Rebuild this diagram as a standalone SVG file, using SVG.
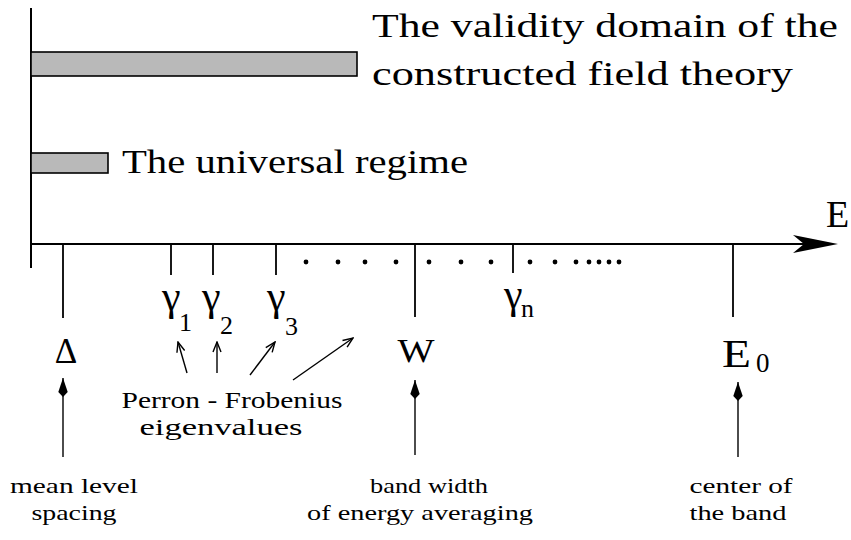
<svg xmlns="http://www.w3.org/2000/svg" width="851" height="540" viewBox="0 0 851 540">
<style>
.ax{stroke:#000;stroke-width:2;fill:none}
.tk{stroke:#000;stroke-width:1.8;fill:none}
.ln{stroke:#000;stroke-width:1.4;fill:none}
.bar{fill:#b9b9b9;stroke:#000;stroke-width:1.6}
.big{font-size:34px}
.mid{font-size:24px}
.sm{font-size:22px}
.g{font-size:42px}
.sub{font-size:26px}
</style>
<defs>
<marker id="fh" viewBox="0 0 20 10" refX="20" refY="5" markerWidth="20" markerHeight="10" markerUnits="userSpaceOnUse" orient="auto">
<path d="M20,5 L6,0.3 L1,5 L6,9.7 Z" fill="#000"/>
</marker>
<marker id="oh" viewBox="0 0 12 10" refX="11" refY="5" markerWidth="12" markerHeight="10" markerUnits="userSpaceOnUse" orient="auto">
<path d="M1,1 L11,5 L1,9" fill="none" stroke="#000" stroke-width="1.4"/>
</marker>
</defs>
<rect width="851" height="540" fill="#fff"/>

<g font-family="'Liberation Serif', 'Times New Roman', Times, serif" fill="#000">
<g id="axes">
<line class="ax" x1="31" y1="8" x2="31" y2="268"/>
<line class="ax" x1="31" y1="244" x2="815" y2="244"/>
<polygon points="838,244 793,235 804,244 793,253" fill="#000"/>
<text x="826" y="227" font-size="38">E</text>
</g>

<g id="validity">
<rect class="bar" x="31" y="52" width="326" height="24"/>
<text class="big" x="372" y="37" textLength="466" lengthAdjust="spacingAndGlyphs">The validity domain of the</text>
<text class="big" x="372" y="85" textLength="421" lengthAdjust="spacingAndGlyphs">constructed field theory</text>
</g>

<g id="universal">
<rect class="bar" x="31" y="153" width="77" height="20"/>
<text class="big" x="122" y="173" textLength="346" lengthAdjust="spacingAndGlyphs">The universal regime</text>
</g>

<g id="ticks">
<line class="tk" x1="63" y1="244" x2="63" y2="318"/>
<line class="tk" x1="171" y1="244" x2="171" y2="275"/>
<line class="tk" x1="213" y1="244" x2="213" y2="275"/>
<line class="tk" x1="276" y1="244" x2="276" y2="275"/>
<line class="tk" x1="415" y1="244" x2="415" y2="317"/>
<line class="tk" x1="513" y1="244" x2="513" y2="273"/>
<line class="tk" x1="733" y1="244" x2="733" y2="317"/>
</g>

<g id="dots">
<circle cx="306" cy="262" r="2.4"/><circle cx="338" cy="262" r="2.4"/>
<circle cx="365" cy="262" r="2.4"/><circle cx="396" cy="262" r="2.4"/>
<circle cx="429" cy="262" r="2.4"/><circle cx="461" cy="262" r="2.4"/>
<circle cx="491" cy="262" r="2.4"/><circle cx="530" cy="262" r="2.4"/>
<circle cx="555" cy="262" r="2.4"/><circle cx="576" cy="262" r="2.4"/>
<circle cx="589" cy="262" r="2.4"/><circle cx="599" cy="262" r="2.4"/>
<circle cx="609" cy="262" r="2.4"/><circle cx="619" cy="262" r="2.4"/>
</g>

<g id="gamma1"><text class="g" x="162" y="310">γ</text><text class="sub" x="179" y="331">1</text></g>
<g id="gamma2"><text class="g" x="202" y="310">γ</text><text class="sub" x="220" y="334">2</text></g>
<g id="gamma3"><text class="g" x="267" y="310">γ</text><text class="sub" x="285" y="335">3</text></g>
<g id="gamman"><text class="g" x="504" y="308">γ</text><text class="sub" x="521" y="317">n</text></g>

<g id="delta"><text x="66" y="363" text-anchor="middle" font-size="35">Δ</text></g>
<g id="W"><text x="416" y="362" text-anchor="middle" font-size="33" textLength="37" lengthAdjust="spacingAndGlyphs">W</text></g>
<g id="E0"><text x="722" y="367" font-size="39" textLength="29" lengthAdjust="spacingAndGlyphs">E</text><text x="756" y="372" font-size="27">0</text></g>

<g id="perron">
<text class="mid" x="232" y="408" text-anchor="middle" textLength="221" lengthAdjust="spacingAndGlyphs">Perron - Frobenius</text>
<text class="mid" x="221" y="435" text-anchor="middle" textLength="163" lengthAdjust="spacingAndGlyphs">eigenvalues</text>
</g>

<g id="mean">
<text class="sm" x="74" y="493" text-anchor="middle" textLength="128" lengthAdjust="spacingAndGlyphs">mean level</text>
<text class="sm" x="74" y="520" text-anchor="middle" textLength="85" lengthAdjust="spacingAndGlyphs">spacing</text>
</g>

<g id="bandwidth">
<text class="sm" x="429" y="493" text-anchor="middle" textLength="118" lengthAdjust="spacingAndGlyphs">band width</text>
<text class="sm" x="420" y="520" text-anchor="middle" textLength="226" lengthAdjust="spacingAndGlyphs">of energy averaging</text>
</g>

<g id="center">
<text class="sm" x="741" y="493" text-anchor="middle" textLength="103" lengthAdjust="spacingAndGlyphs">center of</text>
<text class="sm" x="738" y="520" text-anchor="middle" textLength="97" lengthAdjust="spacingAndGlyphs">the band</text>
</g>
</g>

<g id="connectors">
<line class="ln" x1="63" y1="457" x2="63" y2="378" marker-end="url(#fh)"/>
<line class="ln" x1="415" y1="455" x2="415" y2="380" marker-end="url(#fh)"/>
<line class="ln" x1="738" y1="457" x2="738" y2="382" marker-end="url(#fh)"/>
<line class="ln" x1="187" y1="373" x2="178" y2="342" marker-end="url(#oh)"/>
<line class="ln" x1="217" y1="373" x2="217" y2="342" marker-end="url(#oh)"/>
<line class="ln" x1="250" y1="375" x2="275" y2="342" marker-end="url(#oh)"/>
<line class="ln" x1="293" y1="380" x2="353" y2="338" marker-end="url(#oh)"/>
</g>
</svg>
